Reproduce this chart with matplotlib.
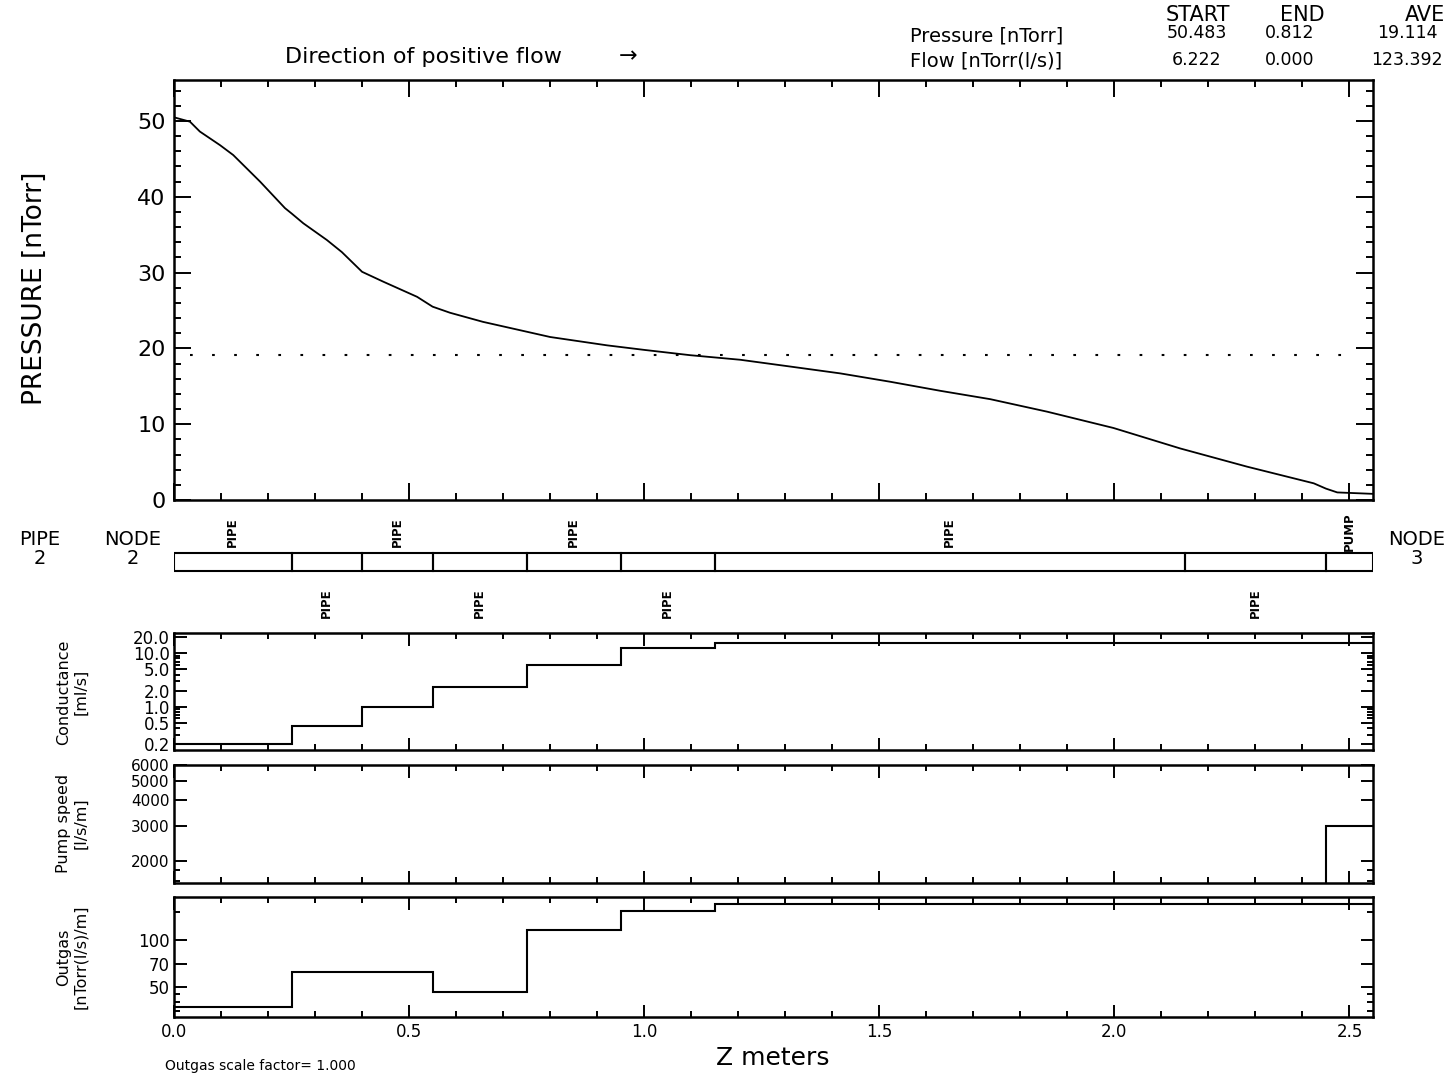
import numpy as np
import matplotlib.pyplot as plt
from matplotlib.ticker import FixedLocator, FixedFormatter, MultipleLocator, LogLocator, NullFormatter

# pressure profile along the line
z_press = [0.0, 0.034, 0.055, 0.098, 0.126, 0.183, 0.236, 0.25, 0.275, 0.325, 0.357, 0.40,
           0.445, 0.517, 0.55, 0.587, 0.657, 0.75, 0.80, 0.921, 1.0, 1.098, 1.204, 1.311,
           1.417, 1.523, 1.63, 1.736, 1.857, 1.998, 2.14, 2.282, 2.424, 2.45, 2.474, 2.55]
p_press = [50.48, 49.9, 48.6, 46.8, 45.5, 42.0, 38.5, 37.8, 36.5, 34.3, 32.7, 30.1,
           28.8, 26.8, 25.5, 24.7, 23.5, 22.2, 21.5, 20.4, 19.8, 19.1, 18.5, 17.6,
           16.7, 15.6, 14.4, 13.3, 11.65, 9.5, 6.8, 4.4, 2.2, 1.5, 1.0, 0.81]
p_ave = 19.114

# elements
seg_edges = [0.0, 0.25, 0.40, 0.55, 0.75, 0.95, 1.15, 2.15, 2.45, 2.55]
seg_kind = ['PIPE'] * 8 + ['PUMP']
conductance = [0.2, 0.43, 1.0, 2.35, 6.1, 12.6, 15.5, 15.5, 15.5]
pump_speed = [0, 0, 0, 0, 0, 0, 0, 0, 3000]
outgas = [37, 62.7, 62.7, 46.4, 116, 152, 169, 169, 169]

table_cols = ["START", "END", "AVE"]
pressure_row = ["50.483", "0.812", "19.114"]
flow_row = ["6.222", "0.000", "123.392"]

W_PX, H_PX = 1448, 1075
fig = plt.figure(figsize=(W_PX / 100, H_PX / 100), dpi=100)

def fx(px):
    return px / W_PX

def fy(py):
    return 1 - py / H_PX

def axes_px(top, bottom):
    return fig.add_axes([fx(174), fy(bottom), fx(1373) - fx(174), (bottom - top) / H_PX])

def style(a, maj, mnr):
    a.tick_params(which='both', direction='in', top=True, right=True, width=1.4)
    a.tick_params(which='major', length=maj)
    a.tick_params(which='minor', length=mnr)
    for s in a.spines.values():
        s.set_linewidth(1.8)
    a.set_xlim(0, 2.55)
    a.xaxis.set_major_locator(MultipleLocator(0.5))
    a.xaxis.set_minor_locator(MultipleLocator(0.1))

# ---- main pressure plot
ax = axes_px(80, 500)
ax.plot(z_press, p_press, color='black', lw=1.3)
ax.hlines(p_ave, 0.035, 2.52, colors='black', lw=1.5, linestyles=(0, (1.3, 9.3)))
style(ax, 12, 5)
ax.set_ylim(0, 55.4)
ax.yaxis.set_major_locator(MultipleLocator(10))
ax.yaxis.set_minor_locator(MultipleLocator(2))
ax.tick_params(axis='y', labelsize=16, pad=6)
ax.set_xticklabels([])
fig.text(fx(35), fy(288), "PRESSURE [nTorr]", rotation=90, ha='center', va='center', fontsize=19)

# ---- pipe / element diagram
axp = axes_px(515, 620)
axp.set_xlim(0, 2.55)
axp.set_ylim(0, 1)
axp.axis('off')
for i, kind in enumerate(seg_kind):
    left, right = seg_edges[i], seg_edges[i + 1]
    axp.bar(left, 0.171, width=right - left, bottom=0.467, align='edge',
            fill=False, edgecolor='black', lw=1.5)
    yy = 0.84 if i % 2 == 0 else 0.16
    axp.text((left + right) / 2, yy, kind, rotation=90, ha='center', va='center',
             fontsize=8.5, fontweight='bold')
fig.text(fx(40), fy(549), "PIPE\n2", ha='center', va='center', fontsize=14, linespacing=1.0)
fig.text(fx(133), fy(549), "NODE\n2", ha='center', va='center', fontsize=14, linespacing=1.0)
fig.text(fx(1417), fy(549), "NODE\n3", ha='center', va='center', fontsize=14, linespacing=1.0)

# ---- conductance
axc = axes_px(633, 750)
axc.stairs(conductance, seg_edges, baseline=None, color='black', lw=1.5)
axc.set_yscale('log')
axc.set_ylim(0.154, 24)
c_ticks = [0.2, 0.5, 1.0, 2.0, 5.0, 10.0, 20.0]
axc.yaxis.set_major_locator(FixedLocator(c_ticks))
axc.yaxis.set_major_formatter(FixedFormatter([f"{t:.1f}" for t in c_ticks]))
axc.yaxis.set_minor_locator(LogLocator(subs=np.arange(2, 10)))
axc.yaxis.set_minor_formatter(NullFormatter())
style(axc, 9, 4)
axc.tick_params(axis='y', labelsize=12, pad=3)
axc.set_xticklabels([])
fig.text(fx(72), fy(692), "Conductance\n[ml/s]", rotation=90, ha='center', va='center', fontsize=11.5)

# ---- pump speed
axs = axes_px(765, 883)
axs.stairs(pump_speed, seg_edges, baseline=None, color='black', lw=1.5)
axs.set_yscale('log', nonpositive='clip')
axs.set_ylim(1555, 6000)
s_ticks = [2000, 3000, 4000, 5000, 6000]
axs.yaxis.set_major_locator(FixedLocator(s_ticks))
axs.yaxis.set_major_formatter(FixedFormatter([str(t) for t in s_ticks]))
axs.yaxis.set_minor_locator(LogLocator(subs=np.arange(1, 10) * 0.2))
axs.yaxis.set_minor_formatter(NullFormatter())
style(axs, 9, 4)
axs.tick_params(axis='y', labelsize=11, pad=3)
axs.set_xticklabels([])
fig.text(fx(72), fy(823), "Pump speed\n[l/s/m]", rotation=90, ha='center', va='center', fontsize=11.5)

# ---- outgassing
axo = axes_px(897, 1017)
axo.stairs(outgas, seg_edges, baseline=None, color='black', lw=1.5)
axo.set_yscale('log')
axo.set_ylim(32.1, 188)
o_ticks = [50, 70, 100]
axo.yaxis.set_major_locator(FixedLocator(o_ticks))
axo.yaxis.set_major_formatter(FixedFormatter([str(t) for t in o_ticks]))
axo.yaxis.set_minor_locator(LogLocator(subs=np.arange(1, 10) * 0.5))
axo.yaxis.set_minor_formatter(NullFormatter())
style(axo, 9, 4)
axo.tick_params(axis='y', labelsize=12, pad=3)
axo.tick_params(axis='x', labelsize=12, pad=4)
axo.xaxis.set_major_locator(FixedLocator([0, 0.5, 1.0, 1.5, 2.0, 2.5]))
axo.xaxis.set_major_formatter(FixedFormatter(["0.0", "0.5", "1.0", "1.5", "2.0", "2.5"]))
fig.text(fx(72), fy(957), "Outgas\n[nTorr(l/s)/m]", rotation=90, ha='center', va='center', fontsize=11.5)

fig.text(fx(773), fy(1058), "Z meters", ha='center', va='center', fontsize=18)
fig.text(fx(165), fy(1066), "Outgas scale factor= 1.000", ha='left', va='center', fontsize=10)

# ---- header
fig.text(fx(285), fy(57), "Direction of positive flow", ha='left', va='center', fontsize=16)
fig.text(fx(628), fy(56), "\u2192", ha='center', va='center', fontsize=16)
fig.text(fx(910), fy(36), "Pressure [nTorr]", ha='left', va='center', fontsize=14)
fig.text(fx(910), fy(61), "Flow [nTorr(l/s)]", ha='left', va='center', fontsize=14)
head_x = [1198, 1302, 1425]
val_x = [1197, 1290, 1407]
for hx, vx, h, pv, fv in zip(head_x, val_x, table_cols, pressure_row, flow_row):
    fig.text(fx(hx), fy(15), h, ha='center', va='center', fontsize=15)
    fig.text(fx(vx), fy(33), pv, ha='center', va='center', fontsize=12.5)
    fig.text(fx(vx), fy(60), fv, ha='center', va='center', fontsize=12.5)

fig.savefig('out.png', dpi=100)
